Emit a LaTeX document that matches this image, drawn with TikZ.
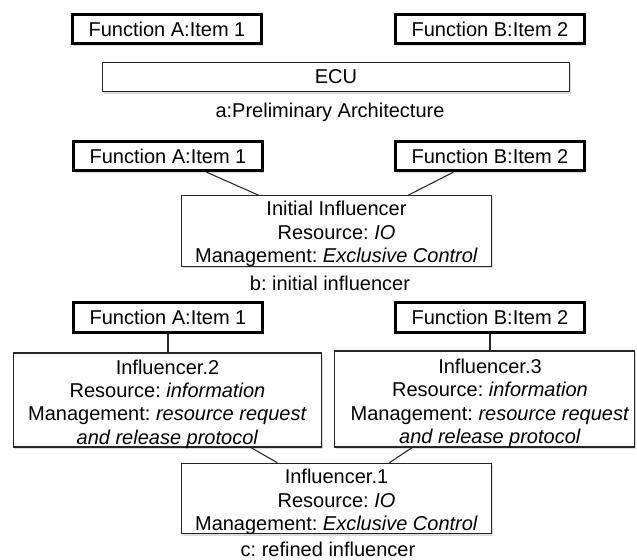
\documentclass[tikz,border=0pt]{standalone}
\usepackage{fontspec}
\setmainfont{Liberation Sans}
\usetikzlibrary{calc,shadows}
% centred block of lines, drawn a little lower than its box centre
\newcommand{\lowlines}[2]{\raisebox{-#1}[\height][\depth]{\begin{tabular}{@{}c@{}}#2\end{tabular}}}
\begin{document}
\frenchspacing
\begin{tikzpicture}[x=0.75pt,y=-0.75pt,
  every node/.style={font=\fontsize{15pt}{17.6pt}\selectfont\frenchspacing},
  softshadow/.style={drop shadow={opacity=0.28,shadow xshift=1pt,shadow yshift=-1.6pt}},
  funcbox/.style={draw=black,line width=2.2pt,fill=white,softshadow,
    minimum width=142pt,minimum height=22pt,inner sep=0pt},
  plainbox/.style={draw=black!85,line width=0.8pt,fill=white,softshadow,
    inner sep=0pt,align=center},
  caption/.style={inner sep=0pt},
  link/.style={draw=black!85,line width=0.8pt}]
\useasboundingbox (0,0) rectangle (637,560);

% a: preliminary architecture
\node[funcbox] (fa1) at (167,29) {Function A:Item 1};
\node[funcbox] (fb1) at (490,29) {Function B:Item 2};
\node[plainbox,minimum width=350pt,minimum height=22pt] (ecu) at (336,77) {ECU};
\node[caption] (capa) at (330,112) {a:Preliminary Architecture};

% b: initial influencer
\node[funcbox] (fa2) at (168,156) {Function A:Item 1};
\node[funcbox] (fb2) at (490,156) {Function B:Item 2};
\node[plainbox,minimum width=232.5pt,minimum height=52pt] (init) at (336.5,231)
  {\lowlines{2.6pt}{Initial Influencer\\Resource: \textit{IO}\\Management: \textit{Exclusive Control}}};
\node[caption] (capb) at (330,283) {b: initial influencer};
\draw[link] ($(fa2.south west)!0.70!(fa2.south east)$) -- ($(init.north west)!0.25!(init.north east)$);
\draw[link] ($(fb2.south west)!0.31!(fb2.south east)$) -- ($(init.north west)!0.73!(init.north east)$);

% c: refined influencer
\node[funcbox] (fa3) at (168,317.5) {Function A:Item 1};
\node[funcbox] (fb3) at (490,317.5) {Function B:Item 2};
\node[plainbox,minimum width=231pt,minimum height=70.5pt] (inf2) at (167.5,400)
  {\lowlines{3.4pt}{Influencer.2\\Resource: \textit{information}\\Management: \textit{resource request}\\\textit{and release protocol}}};
\node[plainbox,minimum width=225pt,minimum height=72pt] (inf3) at (484.5,399)
  {\hspace*{8.25pt}\lowlines{3.6pt}{Influencer.3\\Resource: \textit{information}\\Management: \textit{resource request}\\\textit{and release protocol}}};
\node[plainbox,minimum width=232.5pt,minimum height=50pt] (inf1) at (336.5,498.5)
  {\lowlines{3pt}{Influencer.1\\Resource: \textit{IO}\\Management: \textit{Exclusive Control}}};
\node[caption] (capc) at (328,549.5) {c: refined influencer};
\draw[link] (fa3.south) -- (fa3.south |- inf2.north);
\draw[link] (fb3.south) -- (fb3.south |- inf3.north);
\draw[link] ($(inf2.south west)!0.77!(inf2.south east)$) -- ($(inf1.north west)!0.31!(inf1.north east)$);
\draw[link] ($(inf3.south west)!0.26!(inf3.south east)$) -- ($(inf1.north west)!0.67!(inf1.north east)$);
\end{tikzpicture}
\end{document}
